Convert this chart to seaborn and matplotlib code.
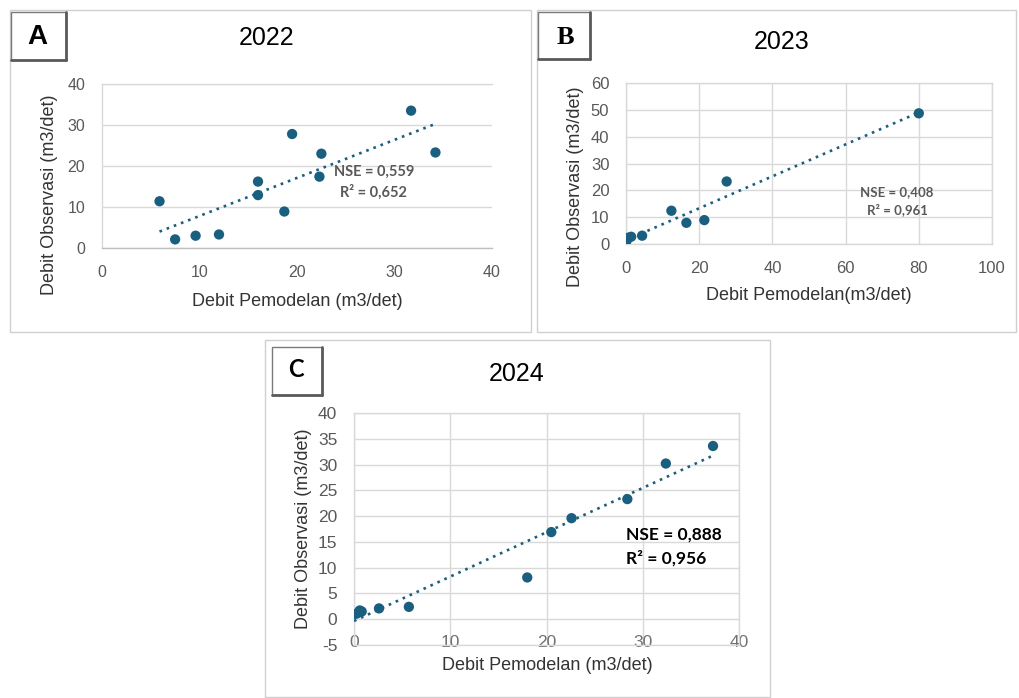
import numpy as np
import matplotlib.pyplot as plt
import seaborn as sns
from matplotlib.patches import Rectangle
from matplotlib.lines import Line2D

W, H = 1019, 698

# data
x_2022 = [5.9, 7.5, 9.6, 12.0, 16.0, 16.0, 18.7, 19.5, 22.5, 22.3, 31.7, 34.2]
y_2022 = [11.4, 2.1, 3.0, 3.3, 16.2, 12.9, 8.9, 27.8, 23.0, 17.4, 33.5, 23.3]

x_2023 = [0.1, 0.3, 0.5, 1.4, 4.4, 12.4, 16.5, 21.4, 27.5, 80.0]
y_2023 = [1.0, 1.8, 2.3, 2.7, 3.1, 12.4, 7.9, 8.9, 23.3, 48.7]

x_2024 = [0.0, 0.3, 0.6, 0.8, 2.6, 5.7, 18.0, 20.5, 22.6, 28.4, 32.4, 37.3]
y_2024 = [1.0, 1.1, 1.7, 1.5, 2.1, 2.4, 8.1, 16.9, 19.6, 23.3, 30.2, 33.6]

stats_text = {
    "2022": ("NSE = 0,559", "R² = 0,652"),
    "2023": ("NSE = 0,408", "R² = 0,961"),
    "2024": ("NSE = 0,888", "R² = 0,956"),
}

sns.set_theme(style="white")
plt.rcParams["font.family"] = ["Liberation Sans", "DejaVu Sans"]
plt.rcParams["axes.unicode_minus"] = False
plt.rcParams["axes.grid"] = False

DOT = "#1a5f7f"
GRID = "#d9d9d9"
TICK = "#595959"

fig = plt.figure(figsize=(W / 100, H / 100), dpi=100)


def rect(l, t, r, b):
    return [l / W, 1 - b / H, (r - l) / W, (b - t) / H]


def ftext(px, py, s, **kw):
    return fig.text(px / W, 1 - py / H, s, **kw)


def frame(l, t, r, b, **kw):
    fig.add_artist(Rectangle((l / W, 1 - b / H), (r - l) / W, (b - t) / H,
                             transform=fig.transFigure, fill=False, **kw))


def letter_box(l, t, r, b, letter, cx, cy, **kw):
    frame(l, t, r, b, ec="#7a7a7a", lw=1.0)
    fig.add_artist(Line2D([r / W, r / W], [1 - t / H, 1 - b / H], transform=fig.transFigure,
                          color="#5a5a5a", lw=2.0))
    fig.add_artist(Line2D([l / W, r / W], [1 - b / H, 1 - b / H], transform=fig.transFigure,
                          color="#5a5a5a", lw=2.0))
    ftext(cx, cy, letter, ha="center", va="center", color="black", fontweight="bold", **kw)


def panel(box, x, y, xlim, ylim, xticks, yticks, vgrid, fs):
    ax = fig.add_axes(rect(*box))
    sns.regplot(x=np.array(x), y=np.array(y), ax=ax, ci=None,
                scatter_kws=dict(s=55, color=DOT, edgecolor="none", alpha=1, zorder=3),
                line_kws=dict(color=DOT, lw=1.9, ls=(0, (1, 1.9)), zorder=4))
    ax.set_xlim(*xlim)
    ax.set_ylim(*ylim)
    ax.set_xticks(list(xticks))
    ax.set_yticks(list(yticks))
    ax.set_xlabel("")
    ax.set_ylabel("")
    ax.tick_params(length=0, labelsize=fs, colors=TICK, pad=12)
    ax.grid(False)
    # Excel-like gridlines
    for v in yticks:
        ax.axhline(v, color=GRID, lw=1, zorder=0.5)
    if vgrid:
        for v in xticks:
            ax.axvline(v, color=GRID, lw=1, zorder=0.5)
    for s in ax.spines.values():
        s.set_color(GRID)
        s.set_linewidth(1)
    ax.set_facecolor("white")
    return ax


# panel frames (screenshot borders)
frame(10, 10, 531, 332, ec="#d0d0d0", lw=1)
frame(537, 10, 1016, 332, ec="#d0d0d0", lw=1)
frame(265, 340, 770, 697, ec="#d0d0d0", lw=1)

# A - 2022
axA = panel((102, 84, 492, 248), x_2022, y_2022, (0, 40), (0, 40),
            range(0, 41, 10), range(0, 41, 10), False, 11.5)
axA.spines["right"].set_visible(False)
axA.spines["bottom"].set_color("#bfbfbf")
ftext(267, 38, "2022", ha="center", va="center", fontsize=18, color="black")
ftext(50, 195, "Debit Observasi (m3/det)", ha="center", va="center", rotation=90,
      fontsize=13, color="#333333")
ftext(297, 302, "Debit Pemodelan (m3/det)", ha="center", va="center", fontsize=13, color="#333333")
ftext(374, 172, stats_text["2022"][0], ha="center", va="center", fontsize=10.5,
      fontweight="bold", color="#595959", family=["Lato", "DejaVu Sans"])
ftext(373, 192, stats_text["2022"][1], ha="center", va="center", fontsize=10.5,
      fontweight="bold", color="#595959", family=["Lato", "DejaVu Sans"])
letter_box(11, 12, 66, 60, "A", 37, 37, fontsize=20)

# B - 2023
axB = panel((626, 83, 992, 244), x_2023, y_2023, (0, 100), (0, 60),
            range(0, 101, 20), range(0, 61, 10), True, 12)
ftext(782, 42, "2023", ha="center", va="center", fontsize=18, color="black")
ftext(575, 187, "Debit Observasi (m3/det)", ha="center", va="center", rotation=90,
      fontsize=13, color="#333333")
ftext(809, 296, "Debit Pemodelan(m3/det)", ha="center", va="center", fontsize=13, color="#333333")
ftext(897, 192, stats_text["2023"][0], ha="center", va="center", fontsize=9.5,
      fontweight="bold", color="#595959", family=["Lato", "DejaVu Sans"])
ftext(897, 210, stats_text["2023"][1], ha="center", va="center", fontsize=9.5,
      fontweight="bold", color="#595959", family=["Lato", "DejaVu Sans"])
letter_box(538, 12, 590, 59, "B", 565, 37, fontsize=19,
           family=["Liberation Serif", "DejaVu Serif"])

# C - 2024
axC = panel((354, 413, 739, 645), x_2024, y_2024, (0, 40), (-5, 40),
            range(0, 41, 10), range(-5, 41, 5), True, 12.5)
axC.tick_params(axis="x", pad=-7, colors="#707070")
ftext(517, 374, "2024", ha="center", va="center", fontsize=18, color="black")
ftext(303, 529, "Debit Observasi (m3/det)", ha="center", va="center", rotation=90,
      fontsize=13, color="#333333")
ftext(547, 666, "Debit Pemodelan (m3/det)", ha="center", va="center", fontsize=13, color="#333333")
ftext(626, 535, stats_text["2024"][0], ha="left", va="center", fontsize=12.5,
      fontweight="bold", color="black", family=["Lato", "DejaVu Sans"])
ftext(626, 558, stats_text["2024"][1], ha="left", va="center", fontsize=12.5,
      fontweight="bold", color="black", family=["Lato", "DejaVu Sans"])
letter_box(272, 347, 322, 395, "C", 296, 369, fontsize=17, family=["Lato", "DejaVu Sans"])

fig.savefig("out.png", dpi=100, facecolor="white")
